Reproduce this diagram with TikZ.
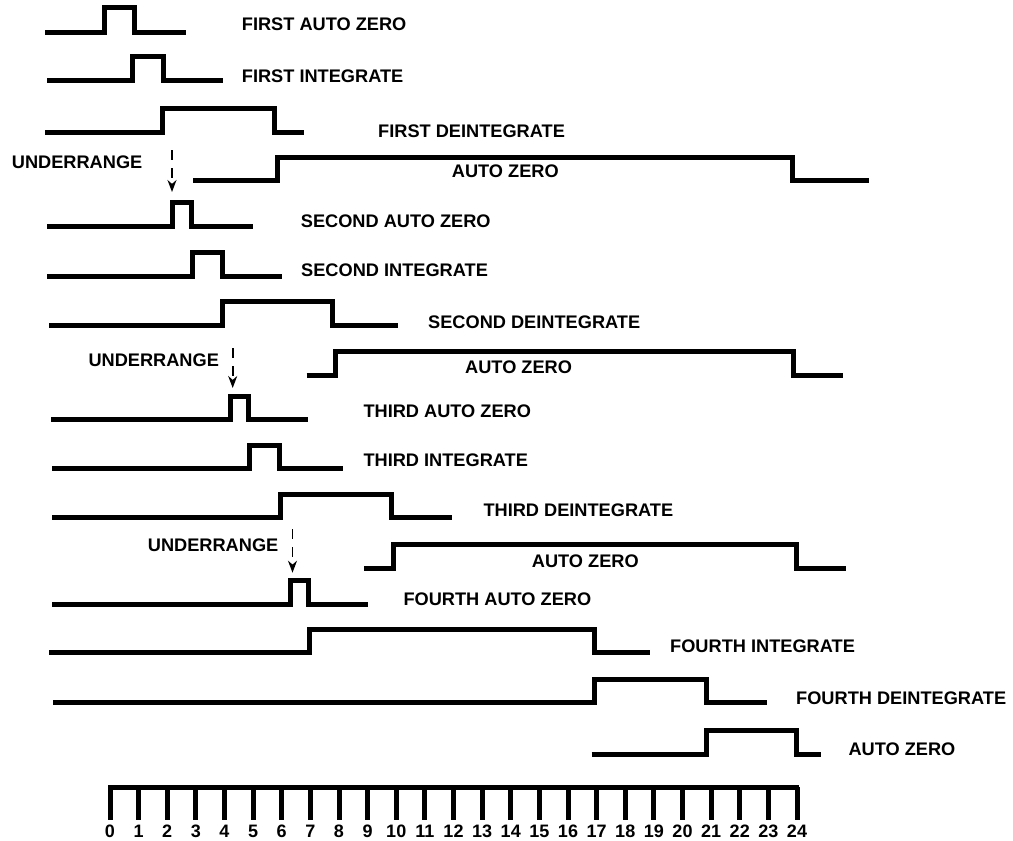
\documentclass[tikz,border=0pt]{standalone}
\usepackage{fontspec}
\setmainfont{Liberation Sans}
\usepackage{tikz}
\usetikzlibrary{arrows.meta}
\tikzstyle{wave} = [line width=5pt, line join=miter]
\tikzstyle{lbl} = [anchor=west, inner sep=0pt,
   font=\fontsize{18.2}{20}\selectfont\bfseries]
\tikzstyle{urArrow} = [line width=1.6pt, dash pattern=on 10pt off 8pt,
   -{Stealth[length=12pt,width=9pt]}]
\tikzstyle{tickNum} = [inner sep=0pt, font=\fontsize{18}{20}\selectfont\bfseries]

\begin{document}
\begin{tikzpicture}[x=1pt,y=-1pt]
    \useasboundingbox (0,0) rectangle (1013,841);
    % first conversion
    \draw [wave] (45,32) -| (104,7) -| (134,32) -- (186,32);
    \draw [wave] (47,80.7) -| (132,56.7) -| (163,80.7) -- (222.7,80.7);
    \draw [wave] (45,132.7) -| (162,108) -| (274,132.7) -- (304,132.7);
    \draw [wave] (193,180.5) -| (277,157) -| (792,180.5) -- (869,180.5);
    \node [lbl] (faz) at (241.7,24) {FIRST AUTO ZERO};
    \node [lbl] (fint) at (241.7,76) {FIRST INTEGRATE};
    \node [lbl] (fdint) at (378,131) {FIRST DEINTEGRATE};
    \node [lbl] (az1) at (451.7,171.7) {AUTO ZERO};
    \node [lbl] (ur1) at (11.7,162.7) {UNDERRANGE};
    \coordinate (ur1top) at (172,150);
    \coordinate (ur1tip) at (172,192);
    \draw [urArrow] (ur1top) -- (ur1tip);
    % second conversion
    \draw [wave] (47,226.7) -| (172,202) -| (191,226.7) -- (253,226.7);
    \draw [wave] (47,276.7) -| (192,252) -| (222,276.7) -- (282,276.7);
    \draw [wave] (49,325.5) -| (222,301.7) -| (332.7,325.5) -- (398.3,325.5);
    \draw [wave] (306.7,375.7) -| (335.7,351.7) -| (793.3,375.7) -- (842.7,375.7);
    \node [lbl] (saz) at (300.7,221.7) {SECOND AUTO ZERO};
    \node [lbl] (sint) at (301,270.7) {SECOND INTEGRATE};
    \node [lbl] (sdint) at (428,322.3) {SECOND DEINTEGRATE};
    \node [lbl] (az2) at (465,367.3) {AUTO ZERO};
    \node [lbl] (ur2) at (88.3,360.7) {UNDERRANGE};
    \coordinate (ur2top) at (232.7,348);
    \coordinate (ur2tip) at (232.7,388);
    \draw [urArrow] (ur2top) -- (ur2tip);
    % third conversion
    \draw [wave] (51,419.5) -| (230,396) -| (248,419.5) -- (308.3,419.5);
    \draw [wave] (52,468.7) -| (249,445.7) -| (279,468.7) -- (343.3,468.7);
    \draw [wave] (52,517.5) -| (280,494) -| (391.7,517.5) -- (451.7,517.5);
    \draw [wave] (364,568.7) -| (393.3,544.7) -| (796.7,568.7) -- (846,568.7);
    \node [lbl] (taz) at (363.3,411.7) {THIRD AUTO ZERO};
    \node [lbl] (tint) at (363.3,460) {THIRD INTEGRATE};
    \node [lbl] (tdint) at (483.3,510) {THIRD DEINTEGRATE};
    \node [lbl] (az3) at (531.7,561) {AUTO ZERO};
    \node [lbl] (ur3) at (147.7,545) {UNDERRANGE};
    \coordinate (ur3top) at (292.5,529);
    \coordinate (ur3tip) at (292.5,572.7);
    \draw [urArrow] (ur3top) -- (ur3tip);
    % fourth conversion
    \draw [wave] (52,604.3) -| (290.5,580) -| (308.3,604.3) -- (368.3,604.3);
    \draw [wave] (49,652.7) -| (309.3,629) -| (594.3,652.7) -- (650,652.7);
    \draw [wave] (53,702.5) -| (594.3,679) -| (706.7,702.5) -- (767.3,702.5);
    \draw [wave] (591.7,754) -| (706.7,730) -| (796,754) -- (821,754);
    \node [lbl] (qaz) at (403.3,599.3) {FOURTH AUTO ZERO};
    \node [lbl] (qint) at (670,646.7) {FOURTH INTEGRATE};
    \node [lbl] (qdint) at (796,698.3) {FOURTH DEINTEGRATE};
    \node [lbl] (az4) at (848.3,749.3) {AUTO ZERO};
    % time scale
    \draw [wave] (108,787) -- (799,787);
    \foreach \i in {0,...,24} {
      \draw [wave] (110+28.625*\i,787) -- (110+28.625*\i,820);
      \node [tickNum] (n\i) at (110+28.625*\i,831.7) {\i};
    }
\end{tikzpicture}
\end{document}
